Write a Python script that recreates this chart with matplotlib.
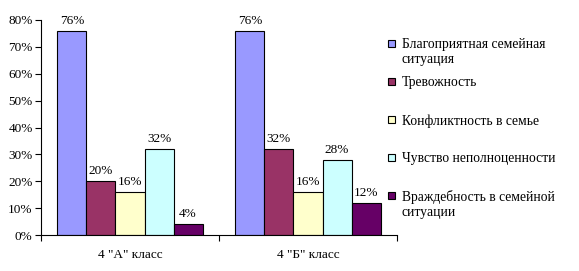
import matplotlib
matplotlib.use('Agg')
import matplotlib.pyplot as plt
import matplotlib.patches as mpatches
import numpy as np

classes = ['4 "А" класс', '4 "Б" класс']
series = ['Благоприятная семейная\nситуация', 'Тревожность', 'Конфликтность в семье',
          'Чувство неполноценности', 'Враждебность в семейной\nситуации']
values_a = [76, 20, 16, 32, 4]
values_b = [76, 32, 16, 28, 12]
colors = ['#9999FF', '#993366', '#FFFFCC', '#CCFFFF', '#660066']

plt.rcParams['font.family'] = ['Liberation Serif', 'DejaVu Serif']
plt.rcParams['font.size'] = 9.5

W, H = 579, 271
fig = plt.figure(figsize=(W / 100, H / 100), dpi=100)
ax = fig.add_axes([41 / W, 1 - 235 / H, 356 / W, 215 / H])

n = len(series)
width = 0.163
x = np.arange(len(classes))
data = np.array([values_a, values_b])
for i in range(n):
    pos = x + (i - (n - 1) / 2) * width
    bars = ax.bar(pos, data[:, i], width, color=colors[i], edgecolor='black',
                  linewidth=0.8)
    for b, v in zip(bars, data[:, i]):
        ax.text(b.get_x() + b.get_width() / 2, v + 1.5, f'{v}%',
                ha='center', va='bottom')

ax.set_xlim(-0.5, 1.5)
ax.set_ylim(0, 80)
ax.set_yticks(range(0, 81, 10))
ax.set_yticklabels([f'{t}%' for t in range(0, 81, 10)])
ax.set_xticks([-0.5, 0.5, 1.5])
ax.set_xticklabels([])
ax.set_xticks(x, minor=True)
ax.set_xticklabels(classes, minor=True)
ax.tick_params(axis='x', which='minor', length=0, pad=10)
ax.tick_params(axis='x', which='major', length=4, width=0.8)
ax.tick_params(axis='y', length=4, width=0.8, pad=2)
ax.spines['top'].set_visible(False)
ax.spines['right'].set_visible(False)

# легенда вручную: квадрат по первой строке подписи
for i, (lab, c) in enumerate(zip(series, colors)):
    yc = 43 + 38 * i
    fig.patches.append(mpatches.Rectangle((388 / W, 1 - (yc + 3.5) / H), 7 / W, 7 / H,
                                          transform=fig.transFigure, facecolor=c,
                                          edgecolor='black', linewidth=0.8))
    fig.text(402 / W, 1 - (yc - 5) / H, lab, ha='left', va='top',
             fontsize=9.8, linespacing=1.2)

plt.savefig('out.png', dpi=100, facecolor='white')
plt.close()
